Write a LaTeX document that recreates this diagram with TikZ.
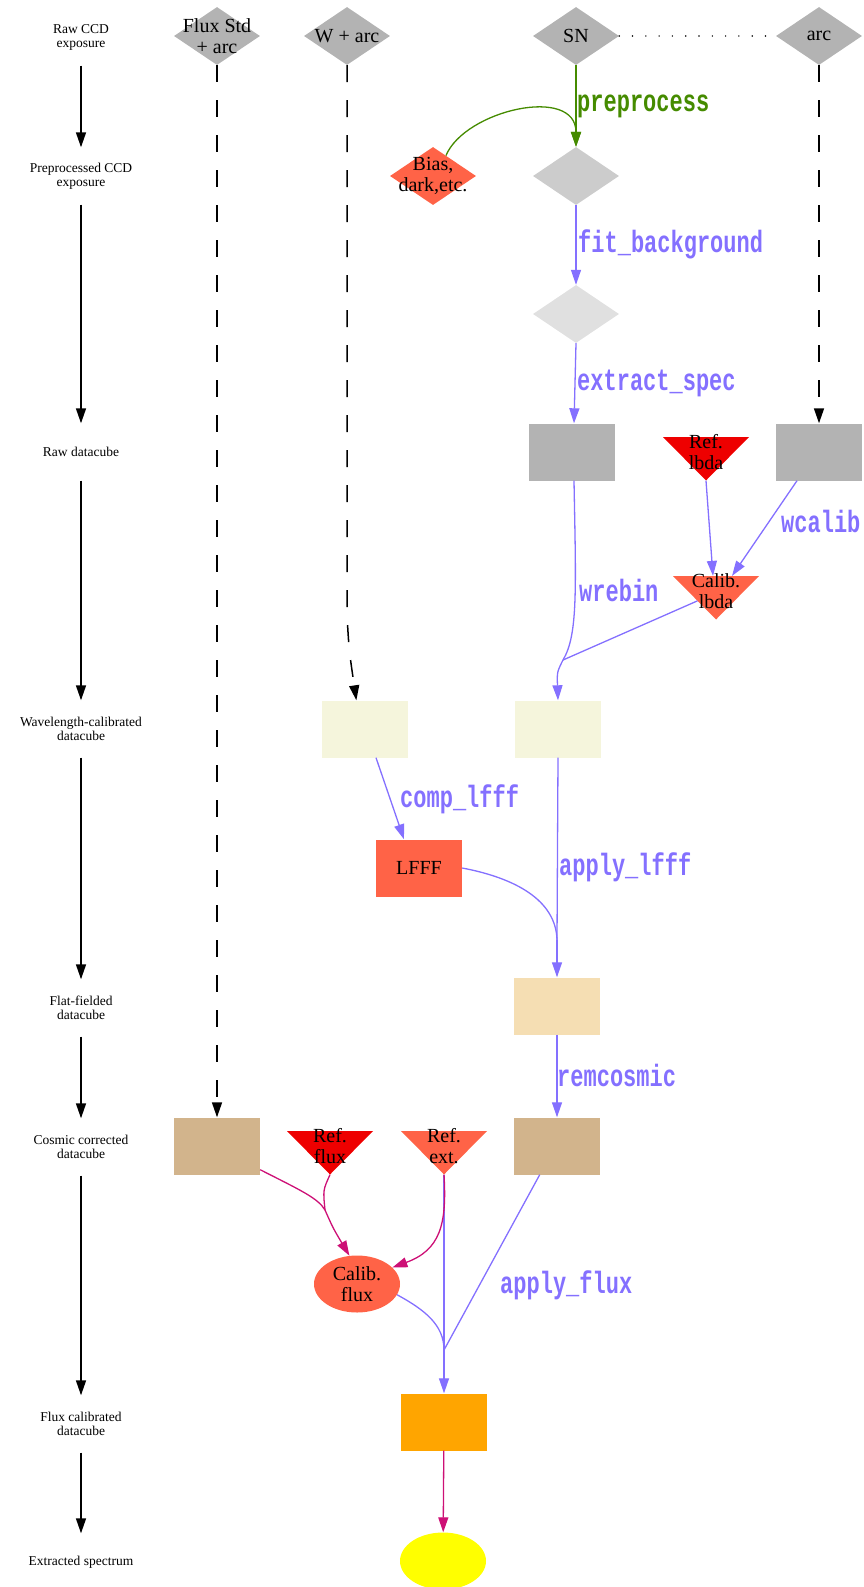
\documentclass[tikz,border=0pt]{standalone}
\usepackage{fontspec}
\usepackage{graphicx}
\setmainfont{Liberation Serif}
\newfontfamily\labfont{Liberation Mono}
\newcommand\tallbold[1]{\scalebox{1}[1.4]{#1}}
\usetikzlibrary{shapes.geometric,arrows.meta,calc}
\definecolor{gA}{HTML}{B3B3B3}
\definecolor{gB}{HTML}{CCCCCC}
\definecolor{gC}{HTML}{E0E0E0}
\definecolor{tomatoc}{HTML}{FF6347}
\definecolor{redtwo}{HTML}{EE0000}
\definecolor{beigec}{HTML}{F5F5DC}
\definecolor{wheatc}{HTML}{F5DEB3}
\definecolor{tanc}{HTML}{D2B48C}
\definecolor{orangec}{HTML}{FFA500}
\definecolor{yellowc}{HTML}{FFFF00}
\definecolor{slate}{HTML}{8470FF}
\definecolor{greenc}{HTML}{458B00}
\definecolor{pinkc}{HTML}{CD1076}
\begin{document}
\begin{tikzpicture}[x=1pt,y=-1pt,
  >={Triangle[length=15pt,width=10pt]},
  lefttxt/.style={font=\fontsize{13.5}{14}\selectfont, align=center, minimum height=57pt, inner sep=0pt},
  ntxt/.style={font=\fontsize{20}{21}\selectfont, align=center, inner sep=0pt},
  dia/.style={diamond, fill=#1, minimum width=86pt, minimum height=58pt, inner sep=0pt},
  box/.style={rectangle, fill=#1, minimum width=86pt, minimum height=57pt, inner sep=0pt, font=\fontsize{20}{21}\selectfont, align=center},
  ell/.style={ellipse, fill=#1, minimum width=86pt, minimum height=57pt, inner sep=0pt},
  tri/.style={rectangle, minimum width=86pt, minimum height=57pt, inner sep=0pt,
    font=\fontsize{20}{21}\selectfont, align=center,
    path picture={\fill[#1] ($(path picture bounding box.north west)!0.237!(path picture bounding box.south west)$)
      -- ($(path picture bounding box.north east)!0.237!(path picture bounding box.south east)$)
      -- (path picture bounding box.south) -- cycle;}},
  elab/.style={font=\labfont\bfseries\fontsize{22}{22}\selectfont, anchor=west, inner sep=0pt, text=#1},
  blk/.style={draw=black, line width=1.5pt},
  dashline/.style={draw=black, line width=1.5pt, dash pattern=on 17pt off 18pt},
  dotline/.style={draw=black, line width=1.6pt, line cap=round, dash pattern=on 0pt off 13.3pt},
  flow/.style={draw=slate, line width=1.3pt},
  mline/.style={draw=pinkc, line width=1.3pt},
  gline/.style={draw=greenc, line width=1.3pt},
  gthick/.style={draw=greenc, line width=2pt},
]
\useasboundingbox (0,0) rectangle (863,1587);

% left legend
\node[lefttxt] (l0) at (81,37) {Raw CCD\\exposure};
\node[lefttxt] (l1) at (81,176) {Preprocessed CCD\\exposure};
\node[lefttxt] (l2) at (81,452) {Raw datacube};
\node[lefttxt] (l3) at (81,729) {Wavelength-calibrated\\datacube};
\node[lefttxt] (l4) at (81,1008) {Flat-fielded\\datacube};
\node[lefttxt] (l5) at (81,1147) {Cosmic corrected\\datacube};
\node[lefttxt] (l6) at (81,1424) {Flux calibrated\\datacube};
\node[lefttxt] (l7) at (81,1562) {Extracted spectrum};
\draw[blk,->] (l0) -- (l1);
\draw[blk,->] (l1) -- (l2);
\draw[blk,->] (l2) -- (l3);
\draw[blk,->] (l3) -- (l4);
\draw[blk,->] (l4) -- (l5);
\draw[blk,->] (l5) -- (l6);
\draw[blk,->] (l6) -- (l7);

% row 0
\node[dia=gA, label={[ntxt]center:{Flux Std\\+ arc}}] (fluxstd) at (217,36) {};
\node[dia=gA, label={[ntxt]center:{W + arc}}] (warc) at (347,36) {};
\node[dia=gA, label={[ntxt]center:{SN}}] (sn) at (576,36) {};
\node[dia=gA, label={[ntxt]center:{arc}}] (arc) at (819,36) {};
\draw[dotline] (sn.east) -- (arc.west);

% row 1
\node[dia=tomatoc, label={[ntxt]center:{Bias,\\dark,etc.}}] (bias) at (433,176) {};
\node[dia=gB] (pre) at (576,176) {};
% row 2
\node[dia=gC] (fit) at (576,314) {};
% row 3
\node[box=gA] (rawsn) at (572,452) {};
\node[tri=redtwo] (reflbda) at (706,452) {Ref.\\lbda};
\node[box=gA] (rawarc) at (819,452) {};
% row 4
\node[tri=tomatoc] (calibl) at (716,591) {Calib.\\lbda};
\coordinate (calibl-top) at ($(calibl.north)!0.237!(calibl.south)$);
\coordinate (calibl-tl) at ($(calibl.north west)!0.237!(calibl.south west)$);
% row 5
\node[box=beigec] (wavew) at (365,729) {};
\node[box=beigec] (wavesn) at (558,729) {};
% row 6
\node[box=tomatoc] (lfff) at (419,868) {LFFF};
% row 7
\node[box=wheatc] (flatsn) at (557,1006) {};
% row 8
\node[box=tanc] (cosf) at (217,1146) {};
\node[tri=redtwo] (reff) at (330,1146) {Ref.\\flux};
\node[tri=tomatoc] (refe) at (444,1146) {Ref.\\ext.};
\node[box=tanc] (cossn) at (557,1146) {};
% row 9
\node[ell=tomatoc, label={[ntxt]center:{Calib.\\flux}}] (calibf) at (357,1284) {};
% row 10
\node[box=orangec] (fluxcal) at (444,1422) {};
% row 11
\node[ell=yellowc] (spec) at (443,1561) {};

% preprocess
\draw[gline,->] ($(bias.north)!0.3!(bias.east)$) .. controls (465,110) and (576,85) .. (pre.north);
\draw[gthick,->] (sn) -- (pre);
\node[elab=greenc] (lpre) at (577,106) {\tallbold{preprocess}};

% fit_background, extract_spec
\draw[flow,->] (pre) -- (fit);
\node[elab=slate] (lfit) at (578,244) {\tallbold{fit\_background}};
\draw[flow,->] (fit.south) -- ($(rawsn.north)+(2,0)$);
\node[elab=slate] (lext) at (577,383) {\tallbold{extract\_spec}};

% arc
\draw[dashline,->] (arc.south) -- (rawarc.north);
\draw[flow,->] (reflbda.south) -- ($(calibl-top)+(-3,0)$);
\draw[flow,->] ($(rawarc.south)+(-22,0)$) -- ($(calibl-top)+(16,0)$);
\node[elab=slate] (lwcal) at (781,521) {\tallbold{wcalib}};

% wrebin
\coordinate (jw) at (563,660);
\draw[flow] ($(rawsn.south)+(2,0)$) .. controls (576,590) and (578,635) .. (jw);
\draw[flow] ($(calibl-tl)!0.57!(calibl.south)$) -- (jw);
\draw[flow,->] (jw) .. controls (557,672) .. (wavesn.north);
\node[elab=slate] (lwreb) at (579,590) {\tallbold{wrebin}};

% W + arc / Flux std dashed
\draw[dashline,->] (warc.south) -- (347,615) .. controls (349,650) .. ($(wavew.north west)!0.4!(wavew.north east)$);
\draw[dashline,->] (fluxstd.south) -- (cosf.north);

% comp_lfff
\draw[flow,->] ($(wavew.south)+(11,0)$) -- ($(lfff.north)+(-15,0)$);
\node[elab=slate] (lcomp) at (400,799) {\tallbold{comp\_lfff}};

% apply_lfff
\coordinate (jl) at (557,940);
\draw[flow] (wavesn.south) -- (jl);
\draw[flow] (lfff.east) .. controls (515,878) and (556,900) .. (jl);
\draw[flow,->] (jl) -- (flatsn.north);
\node[elab=slate] (lapp) at (559,867) {\tallbold{apply\_lfff}};

% remcosmic
\draw[flow,->] (flatsn) -- (cossn);
\node[elab=slate] (lrem) at (557,1075) {\tallbold{remcosmic}};

% flux calibration
\coordinate (jc) at (444,1350);
\draw[flow] (refe.south) -- (jc);
\coordinate (jf) at (325,1210);
\draw[mline] ($(cosf.south east)+(0,-5)$) .. controls (300,1190) and (318,1198) .. (jf);
\draw[mline] (reff.south) .. controls (323,1190) .. (jf);
\draw[mline,->] (jf) .. controls (333,1228) .. (calibf.105);
\draw[mline,->] (refe.south) .. controls (447,1225) and (440,1250) .. (calibf.25);
\draw[flow] (calibf.-15) .. controls (425,1310) and (444,1325) .. (jc);
\draw[flow] ($(cossn.south west)!0.3!(cossn.south east)$) -- (jc);
\draw[flow,->] (jc) -- (fluxcal.north);
\node[elab=slate] (lflux) at (500,1285) {\tallbold{apply\_flux}};

\draw[mline,->] (fluxcal) -- (spec);
\end{tikzpicture}
\end{document}
